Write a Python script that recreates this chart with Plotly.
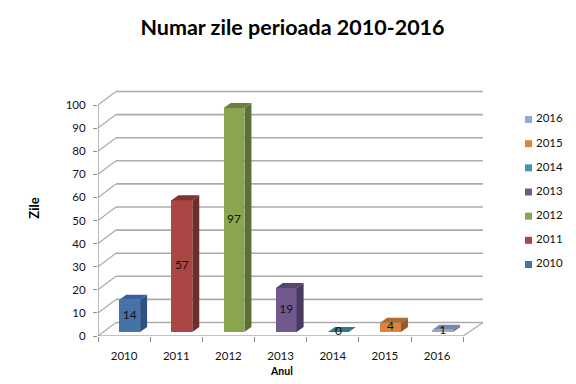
import plotly.graph_objects as go

title = "Numar zile perioada 2010-2016"
years = ["2010", "2011", "2012", "2013", "2014", "2015", "2016"]
zile = [14, 57, 97, 19, 0, 4, 1]
y_ticks = [0, 10, 20, 30, 40, 50, 60, 70, 80, 90, 100]
front = ["#4572A7", "#AA4643", "#89A54E", "#71588F", "#4198AF", "#DB843D", "#93A9CF"]
side = ["#2F5080", "#6F2C2B", "#5C7034", "#4A3A60", "#2B6676", "#95592A", "#64738C"]
top = ["#37609A", "#83322F", "#6A803B", "#58456F", "#32798B", "#B06A30", "#7688A8"]

W, H = 576, 384
L, T, B = 98.3, 90, 336
RIGHT = 483
UX = 52.14   # px per category
UY = 2.31    # px per unit of the value axis
n = len(years)
X_MAX = (RIGHT - L) / UX
Y_MAX = (B - T) / UY
WALL_X, WALL_Y = 18 / UX, 13.5 / UY
BAR_DX, BAR_DY = 5.6 / UX, 4 / UY
BAR_W = 20.8 / UX
SX, SY = 7 / UX, 5 / UY
GRID = "#ABABAB"
AXIS = "#8A8A8A"
FONT = "Lato, Carlito, Calibri, sans-serif"
INK = "#111111"

fig = go.Figure()
centers = [i + 0.5 + BAR_DX for i in range(n)]

fig.add_trace(go.Bar(x=centers, y=zile, base=[BAR_DY] * n, width=BAR_W,
                     marker=dict(color=front, line=dict(width=0)),
                     customdata=years, hovertemplate="%{customdata}: %{y}<extra></extra>",
                     showlegend=False))

for c, v, sc, tc in zip(centers, zile, side, top):
    x0, x1 = c - BAR_W / 2, c + BAR_W / 2
    lo, hi = BAR_DY, BAR_DY + v
    fig.add_trace(go.Scatter(x=[x1, x1 + SX, x1 + SX, x1, x1], y=[lo, lo + SY, hi + SY, hi, lo],
                             fill="toself", fillcolor=sc, mode="lines", line=dict(width=0),
                             hoverinfo="skip", showlegend=False))
    fig.add_trace(go.Scatter(x=[x0, x0 + SX, x1 + SX, x1, x0], y=[hi, hi + SY, hi + SY, hi, hi],
                             fill="toself", fillcolor=tc, mode="lines", line=dict(width=0),
                             hoverinfo="skip", showlegend=False))

fig.add_trace(go.Scatter(x=centers, y=[BAR_DY + v / 2 for v in zile], mode="text",
                         text=[str(v) for v in zile], textposition="middle center",
                         textfont=dict(family=FONT, size=12, color=INK),
                         hoverinfo="skip", showlegend=False, cliponaxis=False))

# legend column, newest year on top
fig.add_trace(go.Scatter(x=[8.5 / 56] * n, y=years, mode="markers", xaxis="x2", yaxis="y2",
                         marker=dict(symbol="square", size=7, color=front, line=dict(width=0)),
                         hoverinfo="skip", showlegend=False, cliponaxis=False))
fig.add_trace(go.Scatter(x=[16 / 56] * n, y=years, mode="text", xaxis="x2", yaxis="y2",
                         text=years, textposition="middle right",
                         textfont=dict(family=FONT, size=11.5, color=INK),
                         hoverinfo="skip", showlegend=False, cliponaxis=False))

shapes = []
def seg(x0, y0, x1, y1, color, width):
    shapes.append(dict(type="line", xref="x", yref="y", x0=x0, y0=y0, x1=x1, y1=y1,
                       layer="below", line=dict(color=color, width=width)))

for t in y_ticks:
    seg(WALL_X, t + WALL_Y, X_MAX, t + WALL_Y, GRID, 1.6)
    seg(0, t, WALL_X, t + WALL_Y, GRID, 1.2)
seg(n, 0, X_MAX, WALL_Y, GRID, 1.2)
seg(0, 0, 0, y_ticks[-1], AXIS, 1.2)
seg(0, 0, n, 0, AXIS, 1.2)

plot_w = W - L
fig.update_layout(
    width=W, height=H, autosize=False,
    margin=dict(l=L, r=0, t=T, b=H - B, pad=0),
    paper_bgcolor="white", plot_bgcolor="white",
    showlegend=False, shapes=shapes, bargap=0,
    title=dict(text="<b>" + title + "</b>", x=292.5 / W, xanchor="center", xref="container",
               y=1 - 27 / H, yanchor="middle", yref="container",
               font=dict(family=FONT, size=21.5, color="#000000")),
    xaxis=dict(domain=[0, (RIGHT - L) / plot_w], range=[0, X_MAX], showgrid=False, zeroline=False,
               showline=False, tickmode="array", tickvals=[i + 0.5 for i in range(n)], ticktext=years,
               ticks="", ticklabelstandoff=11, tickangle=0,
               tickfont=dict(family=FONT, size=11.5, color=INK),
               minor=dict(tickmode="array", tickvals=list(range(n + 1)), ticks="outside",
                          ticklen=5, tickcolor=AXIS, tickwidth=1, showgrid=False)),
    yaxis=dict(range=[0, Y_MAX], showgrid=False, zeroline=False, showline=False,
               tickmode="array", tickvals=y_ticks, ticks="outside", ticklen=4,
               tickcolor=AXIS, ticklabelstandoff=5,
               tickfont=dict(family=FONT, size=11.5, color=INK)),
    xaxis2=dict(domain=[(520 - L) / plot_w, 1], range=[0, 1], visible=False, anchor="y2"),
    yaxis2=dict(domain=[(B - 276.6) / (B - T), (B - 107.4) / (B - T)], type="category",
                categoryorder="array", categoryarray=years, range=[-0.5, 6.5],
                visible=False, anchor="x2"),
    annotations=[
        dict(text="<b>Zile</b>", xref="paper", yref="paper", x=(34 - L) / plot_w,
             y=(B - 208) / (B - T), xanchor="center", yanchor="middle", textangle=-90,
             showarrow=False, font=dict(family=FONT, size=13, color="#000000")),
        dict(text="<b>Anul</b>", xref="paper", yref="paper", x=(282 - L) / plot_w,
             y=(B - 371) / (B - T), xanchor="center", yanchor="middle",
             showarrow=False, font=dict(family=FONT, size=10.5, color="#000000")),
    ],
)

fig.write_html("out.html", config=dict(displayModeBar=False),
               post_script="document.body.style.margin='0';")
